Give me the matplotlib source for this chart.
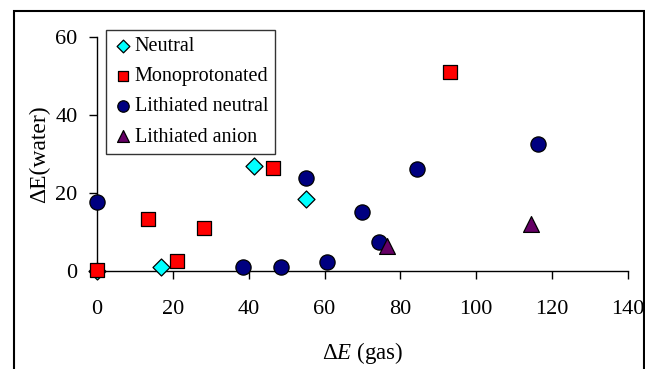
import matplotlib
matplotlib.use("Agg")
import matplotlib.pyplot as plt
from matplotlib.patches import Rectangle

plt.rcParams['font.family'] = ['Liberation Serif', 'DejaVu Serif']
plt.rcParams['mathtext.fontset'] = 'custom'
plt.rcParams['mathtext.rm'] = 'Liberation Serif'
plt.rcParams['mathtext.it'] = 'Liberation Serif:italic'

neutral_x = [0, 16.9, 41.5, 55.0]
neutral_y = [0, 0.9, 27.0, 18.5]
mono_x = [0, 13.5, 21.1, 28.3, 46.3, 93.1]
mono_y = [0.3, 13.4, 2.6, 11.0, 26.5, 51.1]
lin_x = [0, 38.4, 48.4, 55.0, 60.7, 69.8, 74.3, 84.4, 116.2]
lin_y = [17.8, 0.9, 0.9, 23.8, 2.3, 15.0, 7.4, 26.1, 32.6]
lia_x = [76.5, 114.4]
lia_y = [6.5, 12.0]

xticks = [0, 20, 40, 60, 80, 100, 120, 140]
yticks = [0, 20, 40, 60]

fig = plt.figure(figsize=(6.45, 3.69), dpi=100)
ax = fig.add_axes([0.1504, 0.2656, 0.8232, 0.6341])

ax.scatter(neutral_x, neutral_y, marker='D', s=75, c='#00FFFF', edgecolors='black', linewidths=0.9, label='Neutral', zorder=3, clip_on=False)
ax.scatter(mono_x, mono_y, marker='s', s=110, c='#FF0000', edgecolors='black', linewidths=0.9, label='Monoprotonated', zorder=3, clip_on=False)
ax.scatter(lin_x, lin_y, marker='o', s=120, c='#000080', edgecolors='black', linewidths=0.9, label='Lithiated neutral', zorder=3, clip_on=False)
ax.scatter(lia_x, lia_y, marker='^', s=130, c='#660066', edgecolors='black', linewidths=0.9, label='Lithiated anion', zorder=3, clip_on=False)

ax.set_xlim(0, 140)
ax.set_ylim(0, 60)
ax.set_xticks(xticks)
ax.set_yticks(yticks)
for s in ['top', 'right']:
    ax.spines[s].set_visible(False)
for s in ['left', 'bottom']:
    ax.spines[s].set_linewidth(1.0)
ax.tick_params(direction='out', length=6, width=1.0, labelsize=16)
ax.tick_params(axis='x', pad=15)
ax.tick_params(axis='y', pad=8)

ax.set_xlabel(r'$\Delta E$ (gas)', fontsize=16.5, labelpad=15)
ax.set_ylabel('ΔE(water)', fontsize=17, labelpad=4)

leg = ax.legend(loc='upper left', bbox_to_anchor=(0.016, 1.03), fontsize=14.5, frameon=True,
                fancybox=False, edgecolor='black', handletextpad=0.1, borderpad=0.35,
                labelspacing=0.55, handlelength=1.0, markerscale=0.75, borderaxespad=0)
leg.get_frame().set_linewidth(1.0)

rect = Rectangle((14/645, -0.1), (644-14)/645, 1 - 11/369 + 0.1, transform=fig.transFigure,
                 fill=False, edgecolor='black', linewidth=1.5, clip_on=False)
fig.patches.append(rect)

fig.savefig('out.png', dpi=100)
